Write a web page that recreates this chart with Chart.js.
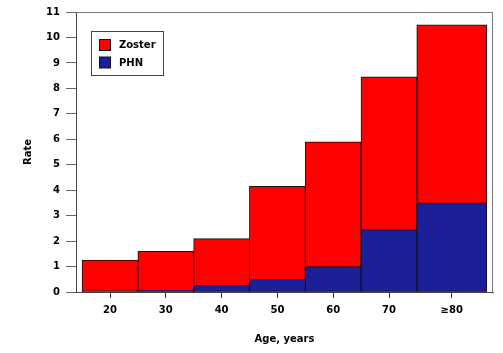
<!DOCTYPE html>
<html><head><meta charset="utf-8">
<script src="https://cdn.jsdelivr.net/npm/chart.js@4/dist/chart.umd.min.js"></script>
<style>html,body{margin:0;padding:0;background:#fff}</style>
</head><body>
<canvas id="c" width="503" height="353"></canvas>
<script>
const categories = ['20', '30', '40', '50', '60', '70', '≥80'];
const agePositions = [20, 30, 40, 50, 60, 70, 81.25];
const zosterRate = [1.25, 1.6, 2.1, 4.15, 5.9, 8.45, 10.5];
const phnRate = [0.05, 0.08, 0.27, 0.5, 1.0, 2.45, 3.5];
const seriesNames = ['Zoster', 'PHN'];
const seriesColors = ['#ff0000', '#1b1f98'];

Chart.defaults.font.family = "'DejaVu Sans', Verdana, sans-serif";
Chart.defaults.font.size = 10;
Chart.defaults.font.weight = 'bold';
Chart.defaults.color = '#000';

const pts = (vals, from, to) => vals.slice(from, to).map((v, i) => ({x: agePositions[from + i], y: v}));
const last = categories.length - 1;

function ds(label, color, vals, from, to, thick, order) {
  return {
    label, data: pts(vals, from, to), backgroundColor: color,
    borderColor: '#111', borderWidth: 1, borderSkipped: false,
    barThickness: thick, grouped: false, order
  };
}

const borderPlugin = {
  id: 'frame',
  afterDraw(chart) {
    const {ctx, chartArea: a} = chart;
    ctx.save();
    ctx.strokeStyle = '#777';
    ctx.lineWidth = 1;
    ctx.beginPath();
    ctx.moveTo(a.left, a.top + 0.5);
    ctx.lineTo(a.right - 0.5, a.top + 0.5);
    ctx.lineTo(a.right - 0.5, a.bottom);
    ctx.stroke();
    // legend
    const bx = a.left + 15.5, by = a.top + 19.5;
    ctx.strokeStyle = '#444';
    ctx.fillStyle = '#fff';
    ctx.fillRect(bx, by, 72, 44);
    ctx.strokeRect(bx, by, 72, 44);
    ctx.font = "bold 10px 'DejaVu Sans'";
    ctx.textBaseline = 'middle';
    seriesNames.forEach((n, i) => {
      const y = by + 8 + i * 17.5;
      ctx.fillStyle = seriesColors[i];
      ctx.fillRect(bx + 8, y, 11, 11);
      ctx.strokeStyle = '#111';
      ctx.strokeRect(bx + 8, y, 11, 11);
      ctx.fillStyle = '#000';
      ctx.fillText(n, bx + 27.5, y + 6);
    });
    ctx.restore();
  }
};

new Chart(document.getElementById('c'), {
  type: 'bar',
  data: {
    datasets: [
      ds(seriesNames[0], seriesColors[0], zosterRate, 0, last, 56, 1),
      ds(seriesNames[0], seriesColors[0], zosterRate, last, last + 1, 70, 1),
      ds(seriesNames[1], seriesColors[1], phnRate, 0, last, 56, 0),
      ds(seriesNames[1], seriesColors[1], phnRate, last, last + 1, 70, 0)
    ]
  },
  options: {
    responsive: false,
    animation: false,
    devicePixelRatio: 1,
    layout: {padding: {top: 12, right: 10, left: 0, bottom: 0}},
    plugins: {legend: {display: false}, tooltip: {enabled: false}},
    scales: {
      x: {
        type: 'linear', min: 13.9, max: 88.64, offset: false,
        afterBuildTicks: s => { s.ticks = agePositions.map(v => ({value: v})); },
        afterFit: s => { s.height = 61; },
        ticks: {autoSkip: false, maxRotation: 0, padding: 6,
          callback: (v, i) => categories[i]},
        grid: {drawOnChartArea: false, tickLength: 6, color: '#333', offset: false},
        border: {color: '#444', width: 1},
        title: {display: true, text: 'Age, years', padding: {top: 0, bottom: 8}}
      },
      y: {
        min: 0, max: 11,
        afterFit: s => { s.width = 76; },
        ticks: {stepSize: 1, padding: 6},
        grid: {drawOnChartArea: false, tickLength: 10, color: '#666'},
        border: {color: '#444', width: 1},
        title: {display: true, text: 'Rate', padding: {top: 22, bottom: 0}}
      }
    }
  },
  plugins: [borderPlugin]
});
</script>
</body></html>
